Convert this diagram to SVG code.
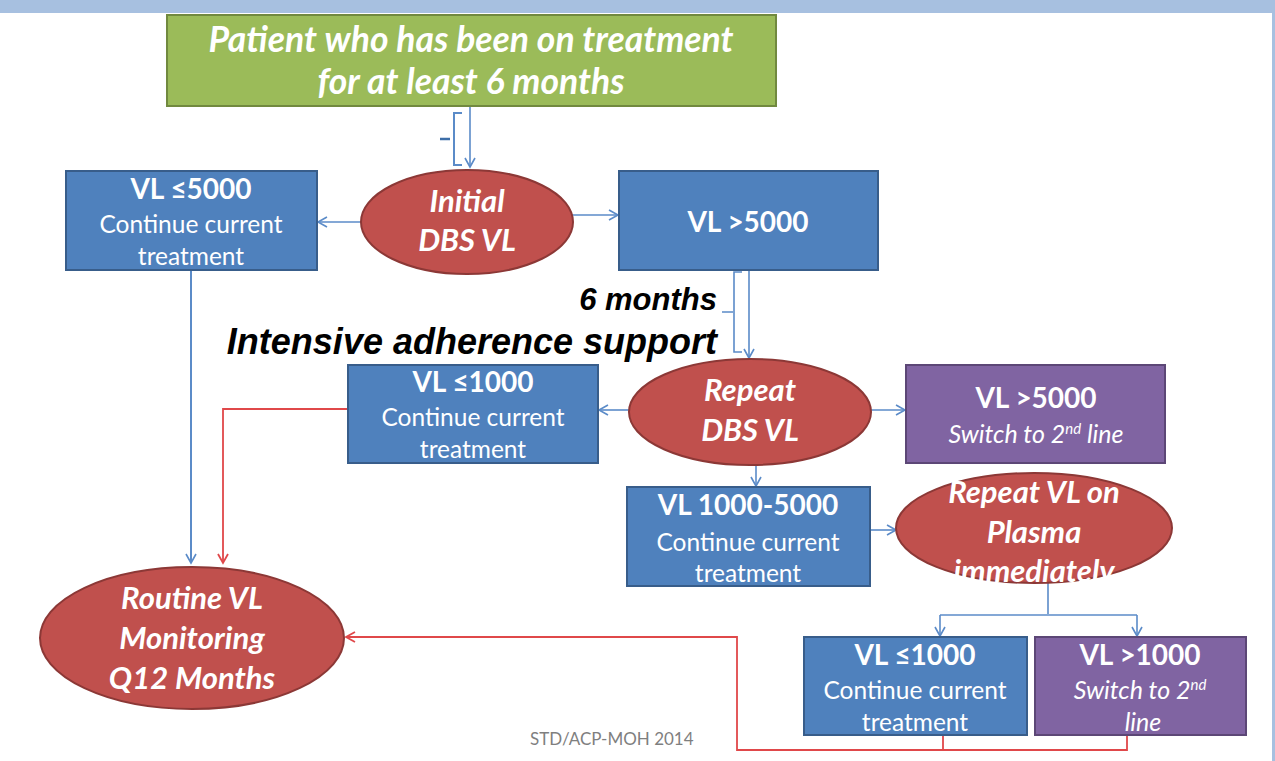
<svg xmlns="http://www.w3.org/2000/svg" width="1275" height="761" viewBox="0 0 1275 761">
<style>
.bg{fill:#ffffff}
.band{fill:#a7c0e0}
.box{fill:#4f81bd;stroke:#385d8a;stroke-width:2}
.pbox{fill:#8064a2;stroke:#5c4776;stroke-width:2}
.gbox{fill:#9bbb59;stroke:#71893f;stroke-width:2}
.ell{fill:#c0504d;stroke:#8c3836;stroke-width:2}
text{font-family:Lato,"Open Sans","Liberation Sans",sans-serif;fill:#ffffff;text-anchor:middle}
.h{font-weight:bold;font-size:28px}
.b{font-size:24.5px}
.i{font-style:italic;font-size:25px}
.e{font-weight:bold;font-style:italic;font-size:31px}
.t{font-weight:bold;font-style:italic;font-size:35.5px}
.lbl{font-family:"Liberation Sans",Arial,sans-serif;font-weight:bold;font-style:italic;fill:#000000;text-anchor:end}
.foot{font-size:17px;fill:#7f7f7f;text-anchor:start}
.cb{fill:none;stroke:#5b8bc8;stroke-width:1.6}
.cr{fill:none;stroke:#e0484a;stroke-width:1.8}
</style>
<defs>
<marker id="ab" markerWidth="12" markerHeight="12" refX="10" refY="6" orient="auto" markerUnits="userSpaceOnUse"><path d="M1,1 L10,6 L1,11" fill="none" stroke="#5b8bc8" stroke-width="1.6"/></marker>
<marker id="ar" markerWidth="12" markerHeight="12" refX="10" refY="6" orient="auto" markerUnits="userSpaceOnUse"><path d="M1,1 L10,6 L1,11" fill="none" stroke="#e0484a" stroke-width="1.8"/></marker>
</defs>
<rect class="bg" x="0" y="0" width="1275" height="761"/>
<rect class="band" x="0" y="0" width="1275" height="13"/>
<rect class="band" x="1272" y="0" width="3" height="761"/>

<g id="connectors">
<path class="cb" d="M470,106 V167" marker-end="url(#ab)"/>
<path class="cb" d="M462,113 H454 V165 H462" style="stroke-width:2"/>
<path class="cb" d="M450,139 H440" style="stroke:#3d6ea8;stroke-width:2.5"/>
<path class="cb" d="M361,222 H318" marker-end="url(#ab)"/>
<path class="cb" d="M572,215 H618" marker-end="url(#ab)"/>
<path class="cb" d="M749,270 V358" marker-end="url(#ab)"/>
<path class="cb" d="M742,272 H734 V352 H742 M733,312 H722"/>
<path class="cb" d="M630,410 H599" marker-end="url(#ab)"/>
<path class="cb" d="M870,410 H905" marker-end="url(#ab)"/>
<path class="cb" d="M756,465 V486" marker-end="url(#ab)"/>
<path class="cb" d="M870,530 H896" marker-end="url(#ab)"/>
<path class="cb" d="M1048,582 V614"/>
<path class="cb" d="M940,615 H1137"/>
<path class="cb" d="M940,615 V636" marker-end="url(#ab)"/>
<path class="cb" d="M1137,615 V636" marker-end="url(#ab)"/>
<path class="cb" d="M191,270 V563" marker-end="url(#ab)" style="stroke-width:2"/>
<path class="cr" d="M348,409 H223 V563" marker-end="url(#ar)"/>
<path class="cr" d="M943,735 V750 H737 V637 H346" marker-end="url(#ar)"/>
<path class="cr" d="M1127,735 V750 H943"/>
</g>

<g id="n-patient">
<rect class="gbox" x="167" y="15" width="609" height="91"/>
<text class="t" x="471" y="52">Patient who has been on treatment</text>
<text class="t" x="471" y="94">for at least 6 months</text>
</g>

<g id="n-initial">
<ellipse class="ell" cx="467" cy="222" rx="106" ry="52"/>
<text class="e" x="467" y="212">Initial</text>
<text class="e" x="467" y="251">DBS VL</text>
</g>

<g id="n-vl5000a">
<rect class="box" x="66" y="171" width="251" height="99"/>
<text class="h" x="191" y="199">VL ≤5000</text>
<text class="b" x="191" y="233">Continue current</text>
<text class="b" x="191" y="265">treatment</text>
</g>

<g id="n-vl5000b">
<rect class="box" x="619" y="171" width="259" height="99"/>
<text class="h" x="748" y="232">VL &gt;5000</text>
</g>

<g id="n-labels">
<text class="lbl" x="717" y="310" font-size="31">6 months</text>
<text class="lbl" x="717" y="354" font-size="36">Intensive adherence support</text>
</g>

<g id="n-repeat">
<ellipse class="ell" cx="750" cy="412" rx="121" ry="53"/>
<text class="e" x="750" y="401">Repeat</text>
<text class="e" x="750" y="441">DBS VL</text>
</g>

<g id="n-vl1000a">
<rect class="box" x="348" y="365" width="250" height="98"/>
<text class="h" x="473" y="392">VL ≤1000</text>
<text class="b" x="473" y="426">Continue current</text>
<text class="b" x="473" y="458">treatment</text>
</g>

<g id="n-vl5000c">
<rect class="pbox" x="906" y="365" width="259" height="98"/>
<text class="h" x="1036" y="408">VL &gt;5000</text>
<text class="i" x="1036" y="443">Switch to 2<tspan font-size="15" dy="-9">nd</tspan><tspan dy="9"> line</tspan></text>
</g>

<g id="n-vl1000-5000">
<rect class="box" x="627" y="487" width="243" height="99"/>
<text class="h" x="748" y="515">VL 1000-5000</text>
<text class="b" x="748" y="551">Continue current</text>
<text class="b" x="748" y="582">treatment</text>
</g>

<g id="n-plasma">
<ellipse class="ell" cx="1034" cy="528" rx="138" ry="55"/>
<text class="e" x="1034" y="503">Repeat VL on</text>
<text class="e" x="1034" y="543">Plasma</text>
<text class="e" x="1034" y="582">immediately</text>
</g>

<g id="n-vl1000b">
<rect class="box" x="804" y="637" width="223" height="98"/>
<text class="h" x="915" y="665">VL ≤1000</text>
<text class="b" x="915" y="699">Continue current</text>
<text class="b" x="915" y="731">treatment</text>
</g>

<g id="n-vl1000c">
<rect class="pbox" x="1035" y="637" width="211" height="98"/>
<text class="h" x="1140" y="665">VL &gt;1000</text>
<text class="i" x="1140" y="699">Switch to 2<tspan font-size="15" dy="-9">nd</tspan></text>
<text class="i" x="1143" y="731">line</text>
</g>

<g id="n-routine">
<ellipse class="ell" cx="192" cy="638" rx="152" ry="71"/>
<text class="e" x="192" y="609">Routine VL</text>
<text class="e" x="192" y="649">Monitoring</text>
<text class="e" x="192" y="689">Q12 Months</text>
</g>

<g id="footer">
<text class="foot" x="530" y="745">STD/ACP-MOH 2014</text>
</g>
</svg>
